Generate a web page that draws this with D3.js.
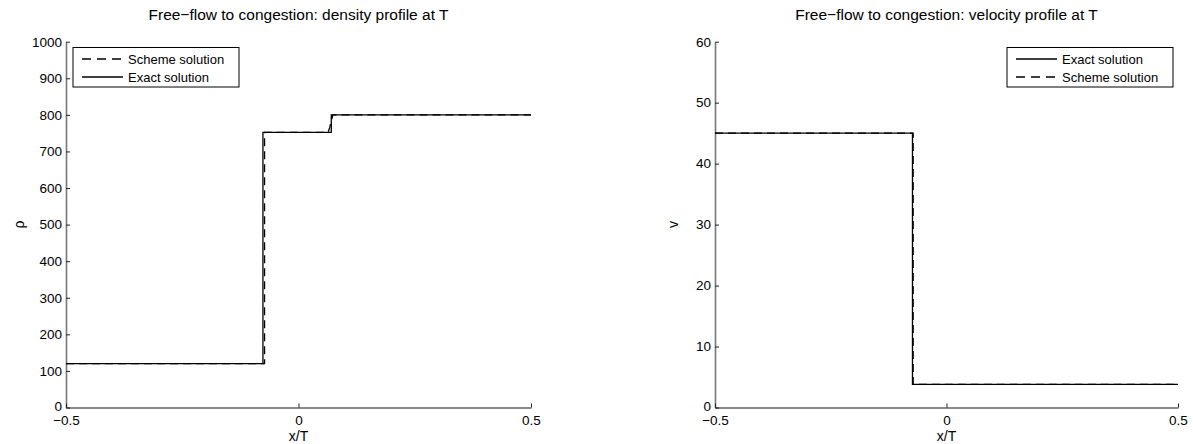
<!DOCTYPE html>
<html>
<head>
<meta charset="utf-8">
<script src="https://cdn.jsdelivr.net/npm/d3@7"></script>
<style>
  body { margin: 0; background: #fff; }
  svg { font-family: "Liberation Sans", Arial, Helvetica, sans-serif; }
</style>
</head>
<body>
<svg id="chart" width="1193" height="444"></svg>
<script>
// Density profile (x/T, rho)
const rhoExactX = [-0.5, -0.0765, -0.0765, 0.0705, 0.0705, 0.5];
const rhoExactY = [120, 120, 752, 752, 800, 800];
const rhoSchemeX = [-0.5, -0.073, -0.073, 0.0635, 0.067, 0.071, 0.074, 0.5];
const rhoSchemeY = [120, 120, 752, 752, 765, 785, 800, 800];

// Velocity profile (x/T, v)
const vExactX = [-0.5, -0.0735, -0.0735, 0.5];
const vExactY = [45, 45, 3.8, 3.8];
const vSchemeX = [-0.5, -0.072, -0.072, 0.5];
const vSchemeY = [45, 45, 3.8, 3.8];

const xTicks = [-0.5, 0, 0.5];
const rhoTicks = [0, 100, 200, 300, 400, 500, 600, 700, 800, 900, 1000];
const vTicks = [0, 10, 20, 30, 40, 50, 60];

const svg = d3.select("#chart");

function panel(opt) {
  const g = svg.append("g");
  const x = d3.scaleLinear().domain([-0.5, 0.5]).range([opt.left, opt.right]);
  const y = d3.scaleLinear().domain(opt.yDomain).range([opt.bottom, opt.top]);

  // y axis with inward ticks
  const yAxis = d3.axisLeft(y).tickValues(opt.yTicks).tickSizeInner(-4).tickSizeOuter(0)
    .tickPadding(4).tickFormat(d3.format("d"));
  const ya = g.append("g").attr("transform", `translate(${opt.left},0)`).call(yAxis);
  ya.select(".domain").attr("stroke", "#777").attr("stroke-width", 1.6);
  ya.selectAll(".tick line").attr("stroke", "#222");
  ya.selectAll("text").attr("font-size", 13.5).attr("fill", "#000");
  // lift the zero label a touch so it clears the x tick label below
  ya.selectAll(".tick").filter(d => d === 0).select("text").attr("dy", "0.2em");

  // x axis with inward ticks
  const xAxis = d3.axisBottom(x).tickValues(xTicks).tickSizeInner(-4).tickSizeOuter(0)
    .tickPadding(8).tickFormat(d => d === 0 ? "0" : d3.format(".1f")(d).replace("-", "\u2212"));
  const xa = g.append("g").attr("transform", `translate(0,${opt.bottom})`).call(xAxis);
  xa.select(".domain").attr("stroke", "#111").attr("stroke-width", 1.2);
  xa.selectAll(".tick line").attr("stroke", "#222");
  xa.selectAll("text").attr("font-size", 13.5).attr("fill", "#000");

  const line = d3.line().x(d => x(d[0])).y(d => y(d[1]));

  opt.series.forEach(s => {
    g.append("path")
      .datum(d3.zip(s.xs, s.ys))
      .attr("d", line)
      .attr("fill", "none")
      .attr("stroke", "#000")
      .attr("stroke-width", 1.3)
      .attr("stroke-dasharray", s.dashed ? "8,5" : null);
  });

  // title
  g.append("text")
    .attr("x", (opt.left + opt.right) / 2).attr("y", 20)
    .attr("text-anchor", "middle").attr("font-size", 15.5)
    .text(opt.title);

  // axis labels
  g.append("text")
    .attr("x", (opt.left + opt.right) / 2).attr("y", 441)
    .attr("text-anchor", "middle").attr("font-size", 14)
    .text("x/T");
  g.append("text")
    .attr("transform", `translate(${opt.ylabelX},${(opt.top + opt.bottom) / 2}) rotate(-90)`)
    .attr("text-anchor", "middle").attr("font-size", 14)
    .text(opt.ylabel);

  // legend
  const lg = g.append("g").attr("transform", `translate(${opt.legendX},47.5)`);
  lg.append("rect").attr("width", 166).attr("height", 39.5)
    .attr("fill", "#fff").attr("stroke", "#000").attr("stroke-width", 1);
  opt.legend.forEach((e, i) => {
    const yy = 11.5 + i * 18;
    lg.append("line").attr("x1", 9).attr("x2", 50).attr("y1", yy).attr("y2", yy)
      .attr("stroke", "#000").attr("stroke-width", 1.3)
      .attr("stroke-dasharray", e.dashed ? "9,6" : null);
    lg.append("text").attr("x", 55).attr("y", yy).attr("dy", "0.35em")
      .attr("font-size", 13).text(e.label);
  });
}

panel({
  left: 66, right: 531, top: 41.7, bottom: 407.5,
  yDomain: [0, 1000], yTicks: rhoTicks,
  title: "Free\u2212flow to congestion: density profile at T",
  ylabel: "\u03c1", ylabelX: 24,
  legendX: 73,
  series: [
    { xs: rhoExactX, ys: rhoExactY, dashed: false },
    { xs: rhoSchemeX, ys: rhoSchemeY, dashed: true }
  ],
  legend: [
    { label: "Scheme solution", dashed: true },
    { label: "Exact solution", dashed: false }
  ]
});

panel({
  left: 715, right: 1178, top: 41.7, bottom: 407.5,
  yDomain: [0, 60], yTicks: vTicks,
  title: "Free\u2212flow to congestion: velocity profile at T",
  ylabel: "v", ylabelX: 678,
  legendX: 1007,
  series: [
    { xs: vExactX, ys: vExactY, dashed: false },
    { xs: vSchemeX, ys: vSchemeY, dashed: true }
  ],
  legend: [
    { label: "Exact solution", dashed: false },
    { label: "Scheme solution", dashed: true }
  ]
});
</script>
</body>
</html>
